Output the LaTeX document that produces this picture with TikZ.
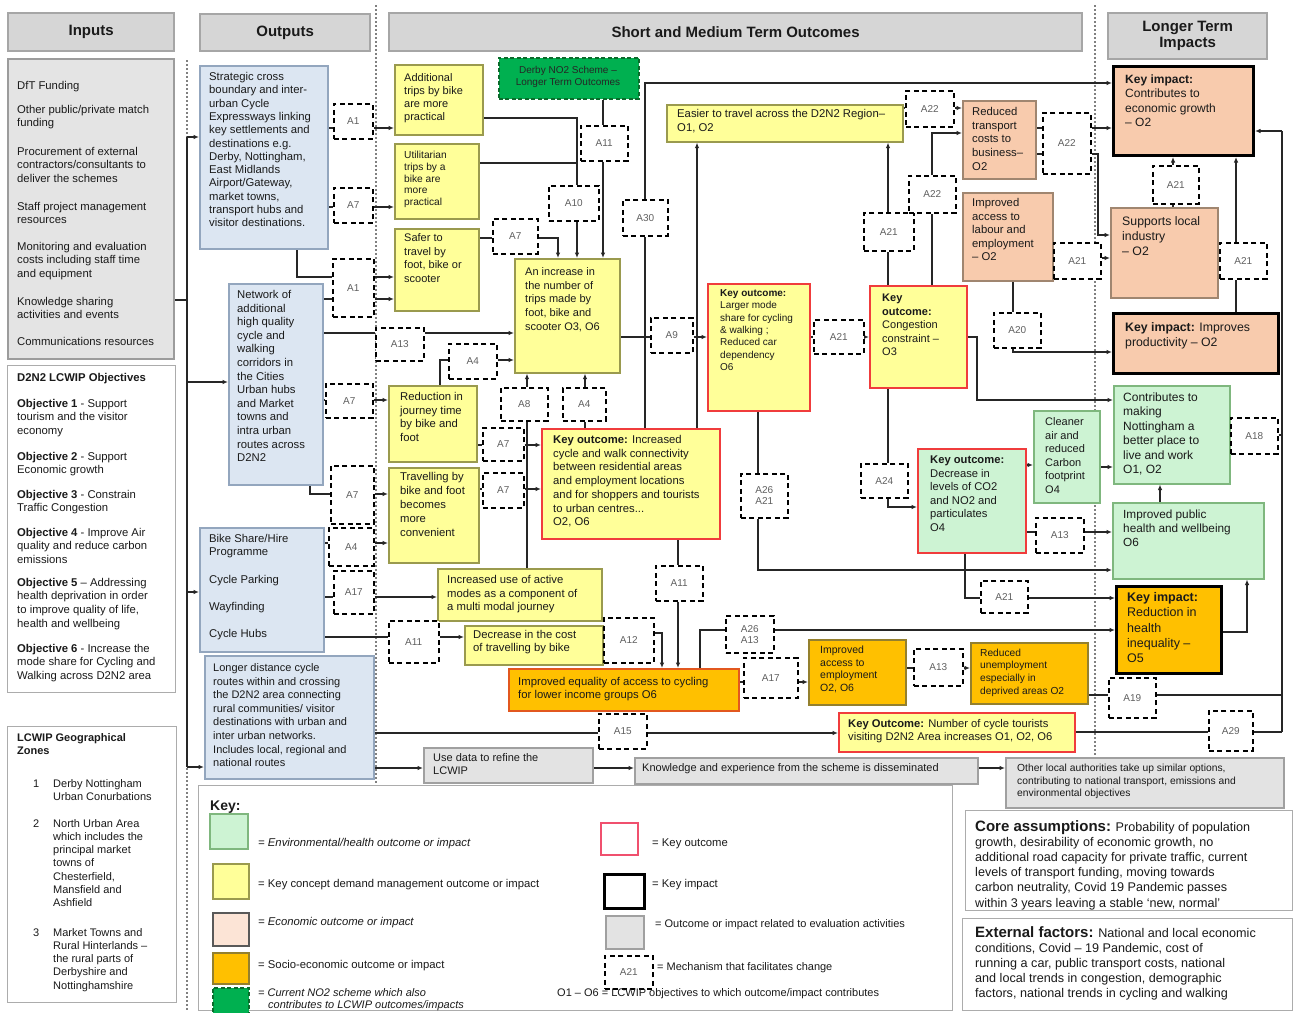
\documentclass[tikz,border=0pt]{standalone}
\usepackage{fontspec}
\setmainfont{Liberation Sans}
\usetikzlibrary{arrows.meta}
\pgfdeclarelayer{bg}
\pgfsetlayers{bg,main}
\definecolor{hdrF}{HTML}{D6D6D6}\definecolor{hdrD}{HTML}{A6A6A6}
\definecolor{inF}{HTML}{E4E4E4}\definecolor{inD}{HTML}{9C9C9C}
\definecolor{bluF}{HTML}{DCE6F2}\definecolor{bluD}{HTML}{93A6BE}
\definecolor{yelF}{HTML}{FFFF99}\definecolor{yelD}{HTML}{9A9A4E}
\definecolor{redD}{HTML}{F03C3C}
\definecolor{grnF}{HTML}{CDF3D3}\definecolor{grnD}{HTML}{7FB77E}
\definecolor{pchF}{HTML}{F8CBAD}\definecolor{pchD}{HTML}{A08670}\definecolor{pchL}{HTML}{FCE4D6}
\definecolor{orgF}{HTML}{FFC000}\definecolor{orgD}{HTML}{94802E}\definecolor{orgR}{HTML}{E2571F}
\definecolor{gryF}{HTML}{E3E3E3}\definecolor{gryD}{HTML}{A0A0A0}
\definecolor{noF}{HTML}{00B050}\definecolor{noD}{HTML}{0B6B2B}
\definecolor{lgR}{HTML}{F0506E}
\definecolor{mlab}{HTML}{606060}
\definecolor{txtC}{HTML}{1A1A1A}
\newcommand\fsz[2]{\fontsize{#1}{#2}\selectfont}
\newcommand\myfA{\fsz{11.3}{13.4}}
\newcommand\mybx[6]{\node[#2,anchor=north west,inner sep=0pt,minimum width={(#5-#3)*1pt},minimum height={(#6-#4)*1pt}] (#1) at (#3,#4) {};}
\newcommand\mybxt[7]{\node[#2,anchor=north west,inner sep=0pt,minimum width={(#5-#3)*1pt},minimum height={(#6-#4)*1pt}] (#1) at (#3,#4) {#7};}
\newcommand\mymb[6]{\node[mech,anchor=north west,inner sep=0pt,minimum width={(#4-#2)*1pt},minimum height={(#5-#3)*1pt},font=\fsz{10}{11},text=mlab,align=center] (#1) at (#2,#3) {#6};}
\newcommand\mytx[5][\myfA]{\node[anchor=base west,inner sep=0pt,text=txtC] (#2) at (#3,#4) {#1\begin{tabular}[t]{@{}l@{}}#5\end{tabular}};}
\tikzset{
 hdr/.style={fill=hdrF,draw=hdrD,line width=2.2pt,font=\bfseries\fsz{15}{16},align=center,text=txtC},
 inb/.style={fill=inF,draw=inD,line width=1.5pt},
 wb/.style={fill=white,draw=gray!65,line width=1.4pt},
 blu/.style={fill=bluF,draw=bluD,line width=1.6pt},
 yel/.style={fill=yelF,draw=yelD,line width=1.6pt},
 kout/.style={fill=yelF,draw=redD,line width=2pt},
 koutg/.style={fill=grnF,draw=redD,line width=2pt},
 grn/.style={fill=grnF,draw=grnD,line width=1.5pt},
 pch/.style={fill=pchF,draw=pchD,line width=1.6pt},
 pchl/.style={fill=pchL,draw=gray!70!black,line width=1.5pt},
 kimp/.style={fill=pchF,draw=black,line width=3pt},
 kimpo/.style={fill=orgF,draw=black,line width=3pt},
 org/.style={fill=orgF,draw=orgD,line width=1.6pt},
 orgr/.style={fill=orgF,draw=orgR,line width=2pt},
 gry/.style={fill=gryF,draw=gryD,line width=1.5pt},
 nox/.style={fill=noF,draw=noD,line width=1.5pt,dash pattern=on 4pt off 2.5pt},
 lgred/.style={fill=white,draw=lgR,line width=2pt},
 lgblk/.style={fill=white,draw=black,line width=3pt},
 mech/.style={fill=white,draw=black,line width=1.5pt,dash pattern=on 5pt off 3.5pt},
 ln/.style={draw=black!85,line width=1.4pt},
 arr/.style={ln,-{Latex[length=5.5pt,width=4.5pt]}},
 sep/.style={draw=gray,line width=1.2pt,dash pattern=on 1.5pt off 2.5pt},
}
\begin{document}
\begin{tikzpicture}[x=1pt,y=-1pt]
\useasboundingbox (0,0) rectangle (1293,1012);
% ---------- headers
\mybxt{hIn}{hdr}{7}{12}{173}{50}{Inputs}
\mybxt{hOut}{hdr}{199}{13}{369}{50}{Outputs}
\mybxt{hSM}{hdr}{388}{12}{1081}{50}{Short and Medium Term Outcomes}
\mybxt{hLT}{hdr}{1107}{12}{1266}{58}{Longer Term\\Impacts}
% ---------- inputs
\mybx{inp}{inb}{7}{58}{173}{358}
\mytx{t-in1}{17}{89.5}{DfT Funding}
\mytx{t-in2}{17}{113.5}{Other public/private match\\funding}
\mytx{t-in3}{17}{155.5}{Procurement of external\\contractors/consultants to\\deliver the schemes}
\mytx{t-in4}{17}{210.5}{Staff project management\\resources}
\mytx{t-in5}{17}{250.5}{Monitoring and evaluation\\costs including staff time\\and equipment}
\mytx{t-in6}{17}{305.5}{Knowledge sharing\\activities and events}
\mytx{t-in7}{17}{345.5}{Communications resources}
\mybx{obj}{wb}{7}{365}{175}{692}
\mytx[\fsz{11.3}{13.8}]{t-ob0}{17}{381}{\textbf{D2N2 LCWIP Objectives}}
\mytx[\fsz{11.3}{13.8}]{t-ob1}{17}{407}{\textbf{Objective 1} - Support\\tourism and the visitor\\economy}
\mytx[\fsz{11.3}{13.8}]{t-ob2}{17}{460}{\textbf{Objective 2} - Support\\Economic growth}
\mytx[\fsz{11.3}{13.8}]{t-ob3}{17}{498}{\textbf{Objective 3} - Constrain\\Traffic Congestion}
\mytx[\fsz{11.3}{13.8}]{t-ob4}{17}{536}{\textbf{Objective 4} - Improve Air\\quality and reduce carbon\\emissions}
\mytx[\fsz{11.3}{13.8}]{t-ob5}{17}{586}{\textbf{Objective 5} – Addressing\\health deprivation in order\\to improve quality of life,\\health and wellbeing}
\mytx[\fsz{11.3}{13.8}]{t-ob6}{17}{652}{\textbf{Objective 6} - Increase the\\mode share for Cycling and\\Walking across D2N2 area}
\mybx{zones}{wb}{7}{726}{176}{1002}
\mytx[\fsz{11}{13.3}]{t-z0}{17}{741}{\textbf{LCWIP Geographical}\\\textbf{Zones}}
\mytx[\fsz{11}{13.3}]{t-z1n}{33}{787}{1}
\mytx[\fsz{11}{13.3}]{t-z1}{53}{787}{Derby Nottingham\\Urban Conurbations}
\mytx[\fsz{11}{13.3}]{t-z2n}{33}{827}{2}
\mytx[\fsz{11}{13.3}]{t-z2}{53}{827}{North Urban Area\\which includes the\\principal market\\towns of\\Chesterfield,\\Mansfield and\\Ashfield}
\mytx[\fsz{11}{13.3}]{t-z3n}{33}{936}{3}
\mytx[\fsz{11}{13.3}]{t-z3}{53}{936}{Market Towns and\\Rural Hinterlands –\\the rural parts of\\Derbyshire and\\Nottinghamshire}
% ---------- outputs
\mybx{strat}{blu}{199}{65}{327}{248}
\mytx[\fsz{11.3}{13.3}]{t-strat}{209}{80.5}{Strategic cross\\boundary and inter-\\urban Cycle\\Expressways linking\\key settlements and\\destinations e.g.\\Derby, Nottingham,\\East Midlands\\Airport/Gateway,\\market towns,\\transport hubs and\\visitor destinations.}
\mybx{netw}{blu}{228}{283}{322}{484}
\mytx[\fsz{11.3}{13.6}]{t-netw}{237}{298.5}{Network of\\additional\\high quality\\cycle and\\walking\\corridors in\\the Cities\\Urban hubs\\and Market\\towns and\\intra urban\\routes across\\D2N2}
\mybx{bikes}{blu}{199}{527}{323}{651}
\mytx{t-bk1}{209}{542.5}{Bike Share/Hire\\Programme}
\mytx{t-bk2}{209}{583.5}{Cycle Parking}
\mytx{t-bk3}{209}{610.5}{Wayfinding}
\mytx{t-bk4}{209}{637.5}{Cycle Hubs}
\mybx{longd}{blu}{204}{655}{373}{778}
\mytx[\fsz{11}{13.6}]{t-longd}{213}{671.5}{Longer distance cycle\\routes within and crossing\\the D2N2 area connecting\\rural communities/ visitor\\destinations with urban and\\inter urban networks.\\Includes local, regional and\\national routes}
% ---------- short and medium term
\mybx{y1}{yel}{394}{64}{482}{134}
\mytx[\fsz{11}{13}]{t-y1}{404}{81.5}{Additional\\trips by bike\\are more\\practical}
\mybx{y2}{yel}{394}{143}{478}{218}
\mytx[\fsz{10.2}{11.8}]{t-y2}{404}{158.5}{Utilitarian\\trips by a\\bike are\\more\\practical}
\mybx{y3}{yel}{394}{228}{478}{310}
\mytx[\fsz{11}{13.7}]{t-y3}{404}{241.5}{Safer to\\travel by\\foot, bike or\\scooter}
\mybx{y4}{yel}{514}{258}{619}{372}
\mytx[\fsz{11}{13.7}]{t-y4}{525}{275.5}{An increase in\\the number of\\trips made by\\foot, bike and\\scooter O3, O6}
\mybx{no2}{nox}{498}{57}{638}{98}
\node[font=\fsz{10}{11.5},text=black!85,align=center] (t-no2) at (568,77) {Derby NO2 Scheme –\\Longer Term Outcomes};
\mybx{easier}{yel}{666}{104}{902}{141}
\mytx[\fsz{11.3}{14}]{t-easier}{677}{117}{Easier to travel across the D2N2 Region–\\O1, O2}
\mybx{kmode}{kout}{707}{283}{809}{410}
\mytx[\fsz{10}{12.3}]{t-kmode}{720}{296.5}{\textbf{Key outcome:}\\Larger mode\\share for cycling\\\& walking ;\\Reduced car\\dependency\\O6}
\mybx{kcong}{kout}{869}{285}{966}{387}
\mytx[\fsz{11}{13.5}]{t-kcong}{882}{301.5}{\textbf{Key}\\\textbf{outcome:}\\Congestion\\constraint –\\O3}
\mybx{yred}{yel}{388}{385}{476}{461}
\mytx[\fsz{11.3}{13.7}]{t-yred}{400}{400.5}{Reduction in\\journey time\\by bike and\\foot}
\mybx{ytrav}{yel}{388}{467}{478}{562}
\mytx[\fsz{11.3}{14}]{t-ytrav}{400}{480.5}{Travelling by\\bike and foot\\becomes\\more\\convenient}
\mybx{kconn}{kout}{541}{428}{719}{538}
\mytx[\fsz{11.3}{13.7}]{t-kconn}{553}{443.5}{\textbf{Key outcome:} Increased\\cycle and walk connectivity\\between residential areas\\and employment locations\\and for shoppers and tourists\\to urban centres...\\O2, O6}
\mybx{yuse}{yel}{437}{568}{601}{620}
\mytx[\fsz{11.3}{13.5}]{t-yuse}{447}{583.5}{Increased use of active\\modes as a component of\\a multi modal journey}
\mybx{ydec}{yel}{464}{625}{602}{664}
\mytx[\fsz{11.3}{13.3}]{t-ydec}{473}{638.5}{Decrease in the cost\\of travelling by bike}
\mybx{oeq}{orgr}{508}{668}{738}{710}
\mytx[\fsz{11.3}{13.3}]{t-oeq}{518}{685.5}{Improved equality of access to cycling\\for lower income groups O6}
\mybx{oemp}{org}{808}{639}{905}{704}
\mytx[\fsz{10.5}{12.7}]{t-oemp}{820}{653.5}{Improved\\access to\\employment\\O2, O6}
\mybx{ounemp}{org}{970}{642}{1087}{703}
\mytx[\fsz{10.2}{12.7}]{t-ounemp}{980}{656}{Reduced\\unemployment\\especially in\\deprived areas O2}
\mybx{ktour}{kout}{838}{712}{1074}{751}
\mytx[\fsz{11.2}{13}]{t-ktour}{848}{727.5}{\textbf{Key Outcome:} Number of cycle tourists\\visiting D2N2 Area increases O1, O2, O6}
% ---------- economic
\mybx{pcost}{pch}{962}{100}{1035}{178}
\mytx[\fsz{11.3}{13.7}]{t-pcost}{972}{115.5}{Reduced\\transport\\costs to\\business–\\O2}
\mybx{plab}{pch}{962}{192}{1052}{280}
\mytx[\fsz{11.3}{13.5}]{t-plab}{972}{206.5}{Improved\\access to\\labour and\\employment\\– O2}
\mybx{kecon}{kimp}{1112}{65}{1252}{154}
\mytx[\fsz{12}{14.3}]{t-kecon}{1125}{83.5}{\textbf{Key impact:}\\Contributes to\\economic growth\\– O2}
\mybx{psup}{pch}{1110}{207}{1217}{297}
\mytx[\fsz{12.3}{15}]{t-psup}{1122}{225.5}{Supports local\\industry\\– O2}
\mybx{kprod}{kimp}{1112}{312}{1277}{372}
\mytx[\fsz{12.3}{15}]{t-kprod}{1125}{331.5}{\textbf{Key impact:} Improves\\productivity – O2}
% ---------- environment / health
\mybx{kco2}{koutg}{917}{448}{1025}{552}
\mytx[\fsz{11.2}{13.6}]{t-kco2}{930}{463.5}{\textbf{Key outcome:}\\Decrease in\\levels of CO2\\and NO2 and\\particulates\\O4}
\mybx{gclean}{grn}{1033}{410}{1099}{502}
\mytx[\fsz{11}{13.6}]{t-gclean}{1045}{425.5}{Cleaner\\air and\\reduced\\Carbon\\footprint\\O4}
\mybx{gcontrib}{grn}{1113}{385}{1229}{483}
\mytx[\fsz{12}{14.4}]{t-gcontrib}{1123}{401.5}{Contributes to\\making\\Nottingham a\\better place to\\live and work\\O1, O2}
\mybx{gpub}{grn}{1112}{502}{1263}{578}
\mytx[\fsz{11.8}{14}]{t-gpub}{1123}{518.5}{Improved public\\health and wellbeing\\O6}
\mybx{khealth}{kimpo}{1115}{585}{1220}{672}
\mytx[\fsz{12.5}{15.3}]{t-khealth}{1127}{601.5}{\textbf{Key impact:}\\Reduction in\\health\\inequality –\\O5}
% ---------- evaluation
\mybx{usedata}{gry}{423}{747}{592}{782}
\mytx[\fsz{11}{13}]{t-usedata}{433}{761.5}{Use data to refine the\\LCWIP}
\mybx{knowl}{gry}{634}{757}{977}{783}
\mytx[\fsz{11}{13}]{t-knowl}{642}{771.5}{Knowledge and experience from the scheme is disseminated}
\mybx{others}{gry}{1005}{757}{1283}{807}
\mytx[\fsz{10.3}{12.5}]{t-others}{1017}{771.5}{Other local authorities take up similar options,\\contributing to national transport, emissions and\\environmental objectives}
\mybx{core}{wb}{965}{810}{1292}{910}
\mytx[\fsz{12.6}{15.2}]{t-core}{975}{831}{{\fsz{15}{15.2}\textbf{Core assumptions:}} Probability of population\\growth, desirability of economic growth, no\\additional road capacity for private traffic, current\\levels of transport funding, moving towards\\carbon neutrality, Covid 19 Pandemic passes\\within 3 years leaving a stable `new, normal'}
\mybx{ext}{wb}{962}{918}{1292}{1010}
\mytx[\fsz{12.6}{15}]{t-ext}{975}{937}{{\fsz{15}{15}\textbf{External factors:}} National and local economic\\conditions, Covid – 19 Pandemic, cost of\\running a car, public transport costs, national\\and local trends in congestion, demographic\\factors, national trends in cycling and walking}
% ---------- key
\mybx{key}{wb}{198}{785}{952}{1010}
\mytx[\fsz{14}{16}]{t-key}{210}{810}{\textbf{Key:}}
\mybx{lg1}{grn}{209}{813}{247}{848}
\mybx{lg2}{yel}{212}{863}{248}{898}
\mybx{lg3}{pchl}{212}{912}{248}{945}
\mybx{lg4}{org}{212}{952}{248}{983}
\mybx{lg5}{nox}{212}{987}{248}{1018}
\mybx{lg6}{lgred}{600}{822}{637}{854}
\mybx{lg7}{lgblk}{603}{873}{643}{907}
\mybx{lg8}{gry}{605}{915}{643}{948}
\mymb{lg9}{604}{955}{652}{988}{A21}
\mytx[\fsz{11.3}{12.5}\itshape]{t-lg1}{258}{846.5}{= Environmental/health outcome or impact}
\mytx[\fsz{11.3}{12.5}]{t-lg2}{258}{887.5}{= Key concept demand management outcome or impact}
\mytx[\fsz{11.3}{12.5}\itshape]{t-lg3}{258}{925.5}{= Economic outcome or impact}
\mytx[\fsz{11.3}{12.5}]{t-lg4}{258}{968.5}{= Socio-economic outcome or impact}
\mytx[\fsz{11}{12}\itshape]{t-lg5}{258}{996.5}{= Current NO2 scheme which also\\\hspace{10pt}contributes to LCWIP outcomes/impacts}
\mytx[\fsz{11.3}{12.5}]{t-lg6}{652}{846.5}{= Key outcome}
\mytx[\fsz{11.3}{12.5}]{t-lg7}{652}{887.5}{= Key impact}
\mytx[\fsz{11}{12.5}]{t-lg8}{655}{927}{= Outcome or impact related to evaluation activities}
\mytx[\fsz{11}{12.5}]{t-lg9}{657}{970.5}{= Mechanism that facilitates change}
\mytx[\fsz{11}{12.5}]{t-lg10}{557}{996.5}{O1 – O6 = LCWIP objectives to which outcome/impact contributes}
% ---------- mechanisms
\mymb{mA1a}{333}{103}{372}{138}{A1}
\mymb{mA7a}{333}{187}{372}{222}{A7}
\mymb{mA1b}{332}{258}{373}{316}{A1}
\mymb{mA13a}{375}{327}{423}{360}{A13}
\mymb{mA4a}{448}{343}{496}{378}{A4}
\mymb{mA7b}{325}{383}{372}{417}{A7}
\mymb{mA7c}{330}{465}{373}{523}{A7}
\mymb{mA4b}{328}{527}{373}{565}{A4}
\mymb{mA17a}{333}{570}{373}{613}{A17}
\mymb{mA11a}{388}{620}{438}{662}{A11}
\mymb{mA10}{548}{185}{598}{220}{A10}
\mymb{mA11b}{580}{125}{627}{160}{A11}
\mymb{mA7d}{492}{218}{537}{253}{A7}
\mymb{mA30}{622}{199}{667}{235}{A30}
\mymb{mA9}{650}{317}{692}{352}{A9}
\mymb{mA8}{500}{387}{547}{420}{A8}
\mymb{mA4c}{562}{387}{605}{420}{A4}
\mymb{mA7e}{482}{427}{523}{460}{A7}
\mymb{mA7f}{482}{472}{523}{507}{A7}
\mymb{mA11c}{655}{565}{702}{600}{A11}
\mymb{mA12}{603}{617}{653}{662}{A12}
\mymb{mA26a}{725}{615}{773}{652}{A26\\A13}
\mymb{mA17b}{743}{657}{797}{697}{A17}
\mymb{mA13b}{913}{648}{962}{685}{A13}
\mymb{mA19}{1108}{677}{1155}{717}{A19}
\mymb{mA29}{1208}{710}{1252}{750}{A29}
\mymb{mA15}{598}{713}{646}{748}{A15}
\mymb{mA21a}{813}{319}{863}{353}{A21}
\mymb{mA26b}{740}{473}{787}{517}{A26\\A21}
\mymb{mA24}{860}{463}{907}{497}{A24}
\mymb{mA21b}{863}{212}{913}{250}{A21}
\mymb{mA22a}{905}{90}{953}{126}{A22}
\mymb{mA22b}{908}{175}{955}{212}{A22}
\mymb{mA22c}{1042}{112}{1090}{173}{A22}
\mymb{mA21c}{1053}{242}{1100}{278}{A21}
\mymb{mA21d}{1152}{165}{1198}{203}{A21}
\mymb{mA21e}{1219}{242}{1266}{278}{A21}
\mymb{mA20}{993}{312}{1040}{347}{A20}
\mymb{mA13c}{1035}{517}{1083}{552}{A13}
\mymb{mA21f}{980}{580}{1027}{612}{A21}
\mymb{mA18}{1230}{417}{1277}{453}{A18}
% ---------- background: separators and connectors
\begin{pgfonlayer}{bg}
\fill[white] (0,0) rectangle (1293,1012);
\draw[sep] (187,60) -- (187,1012);
\draw[sep] (376,5) -- (376,785);
\draw[sep] (1095,5) -- (1095,755);
\coordinate (busT) at (187,137);
\coordinate (busN) at (187,382);
\coordinate (busS) at (187,592);
\coordinate (busB) at (187,767);
\coordinate (busI) at (187,300);
\draw[ln] (inp.east |- busI) -- (busI);
\draw[ln] (busT) -- (busB);
\draw[arr] (busT) -- (strat.west |- busT);
\draw[arr] (busN) -- (netw.west |- busN);
\draw[arr] (busS) -- (bikes.west |- busS);
\draw[arr] (busB) -- (longd.west |- busB);
\draw[ln] (strat.east |- 0,128) -- (mA1a.west |- 0,128);
\draw[arr] (mA1a.east |- 0,128) -- (y1.west |- 0,128);
\draw[ln] (strat.east |- 0,207) -- (mA7a.west |- 0,207);
\draw[arr] (mA7a.east |- 0,207) -- (y2.west |- 0,207);
\draw[ln] (strat.south -| 297,0) |- (mA1b.west |- 0,277);
\draw[arr] (mA1b.east |- 0,277) -- (y3.west |- 0,277);
\draw[ln] (netw.east |- 0,299) -- (mA1b.west |- 0,299);
\draw[arr] (mA1b.east |- 0,299) -- (y3.west |- 0,299);
\draw[ln] (netw.east |- 0,333) -- (mA13a.west |- 0,333);
\draw[arr] (mA13a.east |- 0,333) -- (y4.west |- 0,333);
\draw[ln] (yred.north -| 440,0) |- (mA4a.west |- 0,360);
\draw[arr] (mA4a.east |- 0,360) -- (y4.west |- 0,360);
\draw[ln] (netw.east |- 0,400) -- (mA7b.west |- 0,400);
\draw[arr] (mA7b.east |- 0,400) -- (yred.west |- 0,400);
\draw[ln] (netw.south -| 310,0) |- (mA7c.west |- 0,494);
\draw[arr] (mA7c.east |- 0,494) -- (ytrav.west |- 0,494);
\draw[ln] (bikes.east |- 0,543) -- (mA4b.west |- 0,543);
\draw[arr] (mA4b.east |- 0,543) -- (ytrav.west |- 0,543);
\draw[ln] (bikes.east |- 0,597) -- (mA17a.west |- 0,597);
\draw[arr] (mA17a.east |- 0,597) -- (yuse.west |- 0,597);
\draw[ln] (bikes.east |- 0,637) -- (mA11a.west |- 0,637);
\draw[arr] (mA11a.east |- 0,637) -- (ydec.west |- 0,637);
\coordinate (j1) at (577,163);
\draw[ln] (y1.east |- 0,118) -| (mA10.north -| 577,0);
\draw[ln] (y2.east |- 0,163) -- (j1);
\draw[arr] (mA10.south -| 577,0) -- (y4.north -| 577,0);
\draw[ln] (no2.south -| 603,0) -- (mA11b.north -| 603,0);
\draw[arr] (mA11b.south -| 603,0) -- (y4.north -| 603,0);
\draw[ln] (y3.east |- 0,238) -- (mA7d.west |- 0,238);
\draw[arr] (mA7d.east |- 0,238) -| (y4.north -| 558,0);
\draw[ln] (yuse.north -| 527,0) -- (mA8.south -| 527,0);
\draw[arr] (mA8.north -| 527,0) -- (y4.south -| 527,0);
\draw[ln] (kconn.north -| 585,0) -- (mA4c.south -| 585,0);
\draw[arr] (mA4c.north -| 585,0) -- (y4.south -| 585,0);
\draw[ln] (yred.east |- 0,445) -- (mA7e.west |- 0,445);
\draw[arr] (mA7e.east |- 0,445) -- (kconn.west |- 0,445);
\draw[ln] (ytrav.east |- 0,489) -- (mA7f.west |- 0,489);
\draw[arr] (mA7f.east |- 0,489) -- (kconn.west |- 0,489);
\draw[ln] (y4.east |- 0,337) -- (mA9.west |- 0,337);
\draw[arr] (mA9.east |- 0,337) -- (kmode.west |- 0,337);
\draw[ln] (kconn.north -| 645,0) -- (mA30.south -| 645,0);
\draw[arr] (mA30.north -| 645,0) |- (kecon.west |- 0,83);
\draw[arr] (kconn.north -| 697,0) -- (easier.south -| 697,0);
\draw[ln] (kmode.east |- 0,337) -- (mA21a.west |- 0,337);
\draw[arr] (mA21a.east |- 0,337) -- (kcong.west |- 0,337);
\draw[ln] (kcong.north -| 888,0) -- (mA21b.south -| 888,0);
\draw[arr] (mA21b.north -| 888,0) -- (easier.south -| 888,0);
\draw[ln] (kcong.north -| 932,0) -- (mA22b.south -| 932,0);
\draw[arr] (mA22b.north -| 932,0) |- (pcost.west |- 0,133);
\draw[ln] (easier.east |- 0,108) -- (mA22a.west |- 0,108);
\draw[arr] (mA22a.east |- 0,108) -- (pcost.west |- 0,108);
\draw[ln] (pcost.east |- 0,128) -- (mA22c.west |- 0,128);
\draw[arr] (mA22c.east |- 0,128) -- (kecon.west |- 0,128);
\draw[ln] (pcost.east |- 0,154) -- (mA22c.west |- 0,154);
\coordinate (j2) at (1098,200);
\draw[arr] (mA22c.east |- 0,154) -| (j2) |- (psup.west |- 0,235);
\draw[ln] (plab.east |- 0,258) -- (mA21c.west |- 0,258);
\draw[arr] (mA21c.east |- 0,258) -- (psup.west |- 0,258);
\draw[ln] (psup.north -| 1173,0) -- (mA21d.south -| 1173,0);
\draw[arr] (mA21d.north -| 1173,0) -- (kecon.south -| 1173,0);
\draw[ln] (psup.east |- 0,260) -- (mA21e.west |- 0,260);
\draw[arr] (mA21e.north -| 1236,0) -- (kecon.south -| 1236,0);
\draw[ln] (kprod.north -| 1236,0) -- (mA21e.south -| 1236,0);
\draw[ln] (plab.south -| 1013,0) -- (mA20.north -| 1013,0);
\draw[arr] (mA20.south -| 1013,0) |- (kprod.west |- 0,352);
\draw[ln] (kmode.south -| 758,0) -- (mA26b.north -| 758,0);
\draw[arr] (mA26b.south -| 758,0) |- (gpub.west |- 0,570);
\draw[ln] (kcong.south -| 888,0) -- (mA24.north -| 888,0);
\draw[arr] (mA24.south -| 888,0) |- (kco2.west |- 0,507);
\coordinate (j3) at (977,370);
\draw[arr] (kcong.east |- 0,337) -| (j3) |- (gcontrib.west |- 0,400);
\draw[arr] (kco2.east |- 0,465) -- (gclean.west |- 0,465);
\draw[arr] (gclean.east |- 0,467) -- (gcontrib.west |- 0,467);
\draw[arr] (gpub.north -| 1160,0) -- (gcontrib.south -| 1160,0);
\draw[ln] (kco2.east |- 0,532) -- (mA13c.west |- 0,532);
\draw[arr] (mA13c.east |- 0,532) -- (gpub.west |- 0,532);
\draw[ln] (kco2.south -| 965,0) |- (mA21f.west |- 0,598);
\draw[arr] (mA21f.east |- 0,598) -- (khealth.west |- 0,598);
\draw[arr] (khealth.east |- 0,632) -| (gpub.south -| 1247,0);
\coordinate (rbT) at (1282,131);
\coordinate (rbA) at (1282,435);
\coordinate (rbU) at (1282,695);
\coordinate (rbB) at (1282,732);
\draw[ln] (rbT) -- (rbB);
\draw[arr] (rbT) -- (kecon.east |- rbT);
\draw[ln] (gcontrib.east |- rbA) -- (mA18.west |- rbA);
\draw[ln] (mA18.east |- rbA) -- (rbA);
\draw[ln] (ounemp.east |- rbU) -- (mA19.west |- rbU);
\draw[ln] (mA19.east |- rbU) -- (rbU);
\draw[ln] (ktour.east |- rbB) -- (mA29.west |- rbB);
\draw[ln] (mA29.east |- rbB) -- (rbB);
\draw[ln] (kconn.south -| 678,0) -- (mA11c.north -| 678,0);
\draw[arr] (mA11c.south -| 678,0) -- (oeq.north -| 678,0);
\draw[ln] (ydec.east |- 0,633) -- (mA12.west |- 0,633);
\draw[arr] (mA12.east |- 0,633) -| (oeq.north -| 662,0);
\draw[ln] (oeq.north -| 700,0) |- (mA26a.west |- 0,630);
\draw[arr] (mA26a.east |- 0,630) -- (khealth.west |- 0,630);
\draw[ln] (oeq.east |- 0,682) -- (mA17b.west |- 0,682);
\draw[arr] (mA17b.east |- 0,682) -- (oemp.west |- 0,682);
\draw[ln] (oemp.east |- 0,668) -- (mA13b.west |- 0,668);
\draw[arr] (mA13b.east |- 0,668) -- (ounemp.west |- 0,668);
\draw[ln] (longd.east |- 0,733) -- (mA15.west |- 0,733);
\draw[arr] (mA15.east |- 0,733) -- (ktour.west |- 0,733);
\draw[arr] (longd.east |- 0,768) -- (usedata.west |- 0,768);
\draw[arr] (usedata.east |- 0,768) -- (knowl.west |- 0,768);
\draw[arr] (knowl.east |- 0,768) -- (others.west |- 0,768);
\end{pgfonlayer}
\end{tikzpicture}
\end{document}
